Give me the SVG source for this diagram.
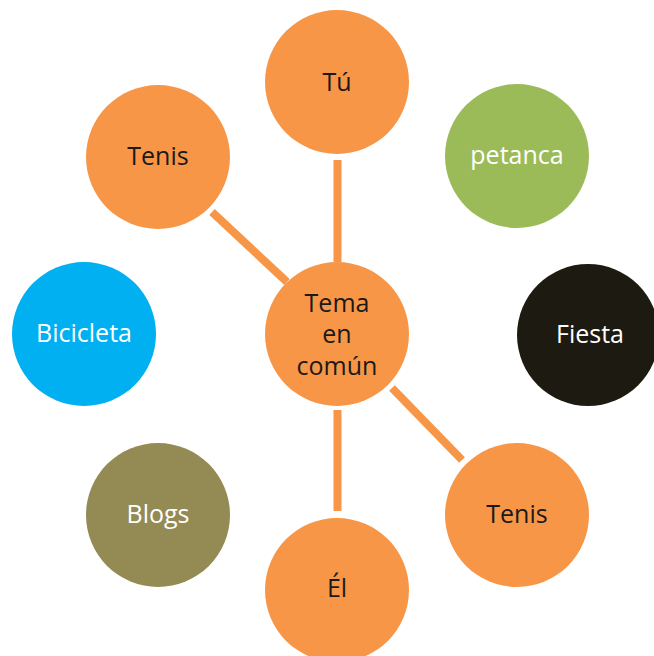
<svg xmlns="http://www.w3.org/2000/svg" width="654" height="656" viewBox="0 0 654 656">
<style>
.c{stroke:none}
.o{fill:#F79646}
.t{font-family:"Open Sans","Liberation Sans",sans-serif;font-size:25px;text-anchor:middle}
.dk{fill:#1a1a1a}
.lt{fill:#ffffff}
.ln{stroke:#F79646;stroke-width:8;stroke-linecap:butt;fill:none}
</style>
<rect width="654" height="656" fill="#ffffff"/>
<g id="connectors">
<line class="ln" x1="337.5" y1="160" x2="337.5" y2="262"/>
<line class="ln" x1="212" y1="212" x2="287" y2="282"/>
<line class="ln" x1="392" y1="388" x2="462" y2="460"/>
<line class="ln" x1="337.5" y1="410" x2="337.5" y2="511"/>
</g>
<g id="node-tu"><circle class="c o" cx="337" cy="82" r="72"/><text class="t dk" x="337" y="91">Tú</text></g>
<g id="node-tenis1"><circle class="c o" cx="158" cy="157" r="72"/><text class="t dk" x="158" y="165">Tenis</text></g>
<g id="node-petanca"><circle class="c" fill="#9BBB59" cx="517" cy="156" r="72"/><text class="t lt" x="517" y="164">petanca</text></g>
<g id="node-bicicleta"><circle class="c" fill="#00B0F0" cx="84" cy="334" r="72"/><text class="t lt" x="84" y="342">Bicicleta</text></g>
<g id="node-centro"><circle class="c o" cx="337" cy="334" r="72"/><text class="t dk" x="337" y="312">Tema</text><text class="t dk" x="337" y="343">en</text><text class="t dk" x="337" y="375">común</text></g>
<g id="node-fiesta"><circle class="c" fill="#1D1B11" cx="588" cy="335" r="71"/><text class="t lt" x="590" y="343">Fiesta</text></g>
<g id="node-blogs"><circle class="c" fill="#948A54" cx="158" cy="515" r="72"/><text class="t lt" x="158" y="523">Blogs</text></g>
<g id="node-tenis2"><circle class="c o" cx="517" cy="515" r="72"/><text class="t dk" x="517" y="523">Tenis</text></g>
<g id="node-el"><circle class="c o" cx="337" cy="590" r="72"/><text class="t dk" x="337" y="597">Él</text></g>
</svg>
